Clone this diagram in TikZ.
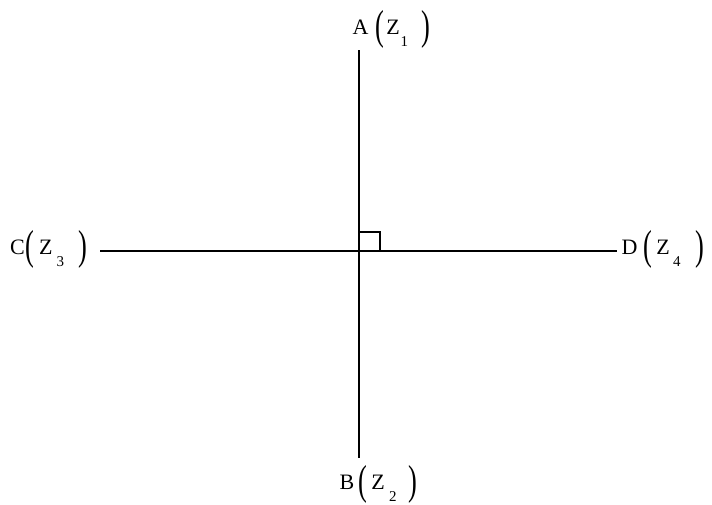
\documentclass[tikz,border=0pt]{standalone}
\usepackage{fontspec}
\usepackage{graphicx}
\setmainfont{Liberation Serif}
\newcommand\mylp{\raisebox{-5.5pt}{\scalebox{1.2}[1.9]{(}}}
\newcommand\myrp{\raisebox{-5.5pt}{\scalebox{1.2}[1.9]{)}}}
\newcommand\mysubs[1]{\raisebox{-12.4pt}{\fontsize{15}{15}\selectfont #1}}
% #1 letter, #2 subscript, #3 pos of (, #4 pos of Z, #5 pos of sub, #6 pos of )
\newcommand\mylbl[6]{\rlap{#1}\rlap{\hspace*{#3pt}\mylp}\rlap{\hspace*{#4pt}Z}\rlap{\hspace*{#5pt}\mysubs{#2}}\hspace*{#6pt}\myrp}
\begin{document}
\begin{tikzpicture}[x=1pt,y=-1pt,
  lbl/.style={inner sep=0pt,outer sep=0pt,anchor=base west,font=\fontsize{22}{22}\selectfont},
  axis/.style={line width=1.2pt,black}]
\useasboundingbox (0,0) rectangle (712,504);
\coordinate (top) at (359,50);
\coordinate (bot) at (359,458);
\coordinate (lft) at (100,251);
\coordinate (rgt) at (617,251);
\coordinate (o) at (359,251);
\coordinate (m1) at (359,232);
\coordinate (m2) at (380,232);
\coordinate (m3) at (380,251);
\node[lbl] (A) at (352.6,34.3) {\mylbl{A}{1}{22.7}{33.8}{48}{68.7}};
\node[lbl] (B) at (339.6,489) {\mylbl{B}{2}{18.7}{31.8}{49.5}{68.7}};
\node[lbl] (C) at (10.1,254.3) {\mylbl{C}{3}{15}{29}{46.6}{68}};
\node[lbl] (D) at (621.6,254.3) {\mylbl{D}{4}{21.7}{34.8}{51.5}{73.7}};
\draw[axis] (top) -- (bot);
\draw[axis] (lft) -- (rgt);
\draw[axis] (m1) -- (m2) -- (m3);
\end{tikzpicture}
\end{document}
